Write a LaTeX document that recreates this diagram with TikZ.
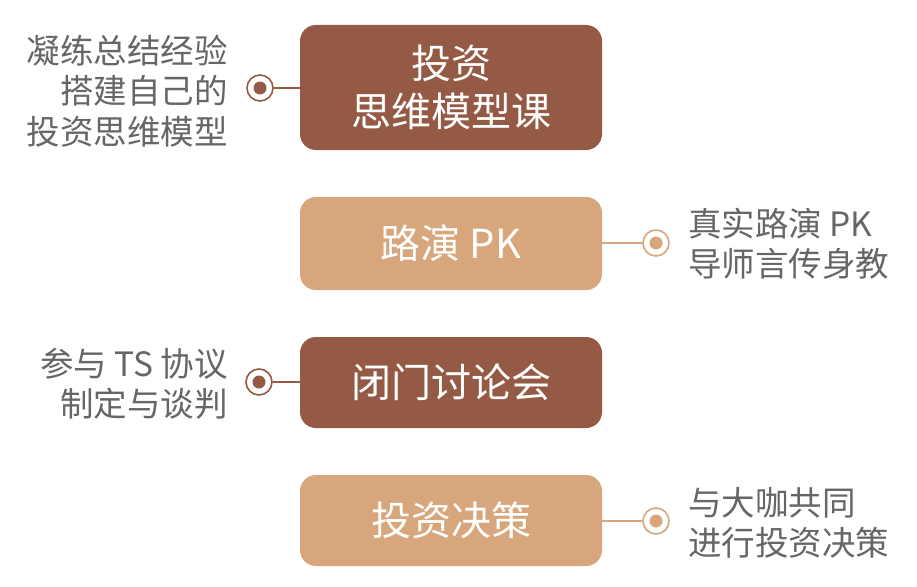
\documentclass[tikz,border=0pt]{standalone}
\usepackage{fontspec}
\setmainfont{Noto Sans CJK SC}
\definecolor{darkbr}{HTML}{955A45}
\definecolor{tanbr}{HTML}{D8A67C}
\definecolor{txtgray}{HTML}{666666}
\begin{document}
\begin{tikzpicture}[x=1pt,y=-1pt,
  stagebox/.style={rounded corners=16pt, minimum width=302pt, text=white, align=center, inner sep=0pt,
    font=\fontsize{40}{48}\selectfont},
  sidetext/.style={text=txtgray, inner sep=0pt, font=\fontsize{33.5}{40.5}\selectfont},
  ring/.style={circle, draw=#1, line width=1.6pt, fill=white, minimum size=26pt, inner sep=0pt},
  dot/.style={circle, fill=#1, minimum size=13pt, inner sep=0pt},
  link/.style={draw=#1, line width=2.2pt}]
\useasboundingbox (0,0) rectangle (917,586);
\fill[white] (0,0) rectangle (917,586);
% boxes
\node[stagebox, fill=darkbr, minimum height=125pt] (b1) at (451,87.5) {投资\\思维模型课};
\node[stagebox, fill=tanbr, minimum height=93pt] (b2) at (451,243.5) {路演 PK};
\node[stagebox, fill=darkbr, minimum height=91pt] (b3) at (451,382.5) {闭门讨论会};
\node[stagebox, fill=tanbr, minimum height=91pt] (b4) at (451,520.5) {投资决策};
% rings
\node[ring=darkbr] (r1) at (260,88) {};
\node[dot=darkbr] (d1) at (r1) {};
\node[ring=tanbr] (r2) at (656,243) {};
\node[dot=tanbr] (d2) at (r2) {};
\node[ring=darkbr] (r3) at (259,382) {};
\node[dot=darkbr] (d3) at (r3) {};
\node[ring=tanbr] (r4) at (656,521) {};
\node[dot=tanbr] (d4) at (r4) {};
% links
\draw[link=darkbr] (r1.east) -- (b1.west |- r1.east);
\draw[link=tanbr] (r2.west) -- (b2.east |- r2.west);
\draw[link=darkbr] (r3.east) -- (b3.west |- r3.east);
\draw[link=tanbr] (r4.west) -- (b4.east |- r4.west);
% side texts
\node[sidetext, anchor=east, align=right] (t1) at (228,91) {凝练总结经验\\搭建自己的\\投资思维模型};
\node[sidetext, anchor=west, align=left] (t2) at (688,244) {真实路演 PK\\导师言传身教};
\node[sidetext, anchor=east, align=right] (t3) at (228,384) {参与 TS 协议\\制定与谈判};
\node[sidetext, anchor=west, align=left] (t4) at (688,523) {与大咖共同\\进行投资决策};
\end{tikzpicture}
\end{document}
